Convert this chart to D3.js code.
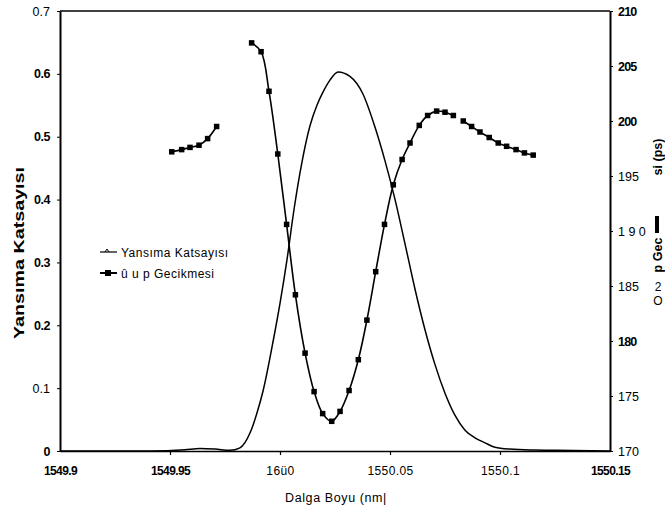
<!DOCTYPE html>
<html>
<head>
<meta charset="utf-8">
<script src="https://cdn.jsdelivr.net/npm/d3@7/dist/d3.min.js"></script>
<style>
  body { margin: 0; background: #fff; }
  text { font-family: "Liberation Sans", Arial, sans-serif; fill: #000; }
</style>
</head>
<body>
<div id="chart"></div>
<script>
// Yansima katsayisi (reflection) curve
var reflWl = [1549.9, 1549.9409, 1549.9568, 1549.9636, 1549.9705, 1549.9773, 1549.9818, 1549.9864,
    1549.9895, 1549.9924, 1549.997, 1550.0, 1550.0032, 1550.0064, 1550.0099, 1550.0136, 1550.0168,
    1550.0197, 1550.0227, 1550.0264, 1550.0318, 1550.0377, 1550.0432, 1550.0477, 1550.0523,
    1550.0568, 1550.0614, 1550.0659, 1550.0705, 1550.075, 1550.0795, 1550.0841, 1550.0886,
    1550.0932, 1550.0977, 1550.1045, 1550.1159, 1550.125, 1550.15];
var reflVal = [0, 0, 0.002, 0.004, 0.003, 0.001, 0.005, 0.029,
    0.06, 0.097, 0.177, 0.235, 0.305, 0.385, 0.458, 0.517, 0.55,
    0.572, 0.59, 0.603, 0.596, 0.568, 0.515, 0.462, 0.40,
    0.33, 0.257, 0.193, 0.137, 0.092, 0.057, 0.033, 0.021,
    0.013, 0.006, 0.003, 0.0015, 0.001, 0];

// Grup gecikmesi (group delay), three drawn pieces
var delayWlA = [1549.9508, 1549.9553, 1549.9591, 1549.9632, 1549.9671, 1549.9712];
var delayPsA = [197.2, 197.4, 197.6, 197.8, 198.4, 199.5];

var delayWlB = [1549.9871, 1549.9914, 1549.995, 1549.999, 1550.003, 1550.007, 1550.0114,
    1550.0155, 1550.0194, 1550.0235, 1550.0273, 1550.0314, 1550.0356, 1550.0395, 1550.0435,
    1550.0475, 1550.0515, 1550.0555, 1550.0591, 1550.0633, 1550.0671, 1550.0712, 1550.075,
    1550.0788];
var delayPsB = [207.1, 206.3, 202.7, 197.0, 190.6, 184.2, 178.9,
    175.4, 173.4, 172.7, 173.6, 175.5, 178.3, 181.9, 186.3,
    190.6, 194.2, 196.5, 198.0, 199.6, 200.5, 200.9, 200.8,
    200.5];

var delayWlC = [1550.0833, 1550.0871, 1550.0909, 1550.0951, 1550.0992, 1550.103, 1550.1073,
    1550.1111, 1550.1151];
var delayPsC = [200.0, 199.5, 199.0, 198.5, 198.0, 197.7, 197.4, 197.1, 196.9];

var xTicks = [1549.9, 1549.95, 1550, 1550.05, 1550.1, 1550.15];
var xTickLabels = ["1549.9", "1549.95", "16ü0", "1550.05", "1550.1", "1550.15"];
var leftTicks = [0, 0.1, 0.2, 0.3, 0.4, 0.5, 0.6, 0.7];
var leftTickLabels = ["0", "0.1", "0.2", "0.3", "0.4", "0.5", "0.6", "0.7"];
var rightTicks = [170, 175, 180, 185, 190, 195, 200, 205, 210];
var rightTickLabels = ["170", "175", "180", "185", "1 9 0", "195", "200", "205", "210"];

var legendLabels = ["Yansıma  Katsayısı", "û u p  Gecikmesi"];

draw();

function draw() {
    var W = 665, H = 510;
    var svg = d3.select("#chart").append("svg")
        .attr("width", W)
        .attr("height", H);
    svg.append("rect").attr("width", W).attr("height", H).attr("fill", "#fff");

    var x = d3.scaleLinear().domain([1549.9, 1550.15]).range([60, 610]);
    var yL = d3.scaleLinear().domain([0, 0.7]).range([451, 11]);
    var yR = d3.scaleLinear().domain([170, 210]).range([451, 11]);

    // bottom axis
    var gx = svg.append("g").attr("transform", "translate(0,451)")
        .call(d3.axisBottom(x).tickValues(xTicks)
            .tickFormat(function (d, i) { return xTickLabels[i]; })
            .tickSize(4).tickSizeOuter(0).tickPadding(11));
    gx.select(".domain").attr("stroke-width", 1.6);
    gx.selectAll(".tick line").attr("stroke-width", 1.2)
        .attr("opacity", function (d, i) { return (i === 0 || i === 5) ? 0 : 1; });
    gx.selectAll(".tick text").attr("font-size", 12)
        .attr("font-weight", function (d, i) { return [0, 1, 5].indexOf(i) >= 0 ? "bold" : "normal"; })
        .attr("letter-spacing", function (d, i) { return [0, 1, 5].indexOf(i) >= 0 ? "-0.6" : "0.4"; });

    // left axis
    var gl = svg.append("g").attr("transform", "translate(60,0)")
        .call(d3.axisLeft(yL).tickValues(leftTicks)
            .tickFormat(function (d, i) { return leftTickLabels[i]; })
            .tickSize(3).tickSizeOuter(0).tickPadding(7));
    gl.select(".domain").attr("stroke-width", 2);
    gl.selectAll(".tick text").attr("font-size", 12.5)
        .attr("font-weight", function (d, i) { return (i === 1 || i === 7) ? "normal" : "bold"; })
        .attr("letter-spacing", function (d, i) { return (i === 1 || i === 7) ? "0" : "-0.5"; });

    // right axis
    var gr = svg.append("g").attr("transform", "translate(610,0)")
        .call(d3.axisRight(yR).tickValues(rightTicks)
            .tickFormat(function (d, i) { return rightTickLabels[i]; })
            .tickSize(3).tickSizeOuter(0).tickPadding(5));
    gr.select(".domain").attr("stroke-width", 2);
    gr.selectAll(".tick text").attr("font-size", 12.5)
        .attr("font-weight", function (d, i) { return [2, 6, 7, 8].indexOf(i) >= 0 ? "bold" : "normal"; })
        .attr("letter-spacing", function (d, i) { return [2, 6, 7, 8].indexOf(i) >= 0 ? "-0.8" : "0"; });

    // top frame line
    svg.append("line").attr("x1", 60).attr("x2", 610).attr("y1", 11).attr("y2", 11)
        .attr("stroke", "#000").attr("stroke-width", 1.3);

    // reflection curve
    var refl = reflWl.map(function (w, i) { return [w, reflVal[i]]; });
    svg.append("path").datum(refl)
        .attr("fill", "none").attr("stroke", "#000").attr("stroke-width", 1.5)
        .attr("d", d3.line().curve(d3.curveMonotoneX)
            .x(function (d) { return x(d[0]); })
            .y(function (d) { return yL(d[1]); }));

    // group delay pieces
    var pieces = [[delayWlA, delayPsA], [delayWlB, delayPsB], [delayWlC, delayPsC]];
    pieces.forEach(function (p) {
        var pts = p[0].map(function (w, i) { return [w, p[1][i]]; });
        svg.append("path").datum(pts)
            .attr("fill", "none").attr("stroke", "#000").attr("stroke-width", 1.6)
            .attr("d", d3.line().curve(d3.curveCatmullRom)
                .x(function (d) { return x(d[0]); })
                .y(function (d) { return yR(d[1]); }));
        svg.selectAll(null).data(pts).enter().append("rect")
            .attr("x", function (d) { return x(d[0]) - 2.75; })
            .attr("y", function (d) { return yR(d[1]) - 2.75; })
            .attr("width", 5.5).attr("height", 5.5).attr("fill", "#000");
    });

    // legend
    var lg = svg.append("g");
    lg.append("line").attr("x1", 100).attr("x2", 117).attr("y1", 252).attr("y2", 252)
        .attr("stroke", "#000").attr("stroke-width", 1.2);
    lg.append("path").attr("d", "M105,252 L107,249 L109,252").attr("fill", "none")
        .attr("stroke", "#000").attr("stroke-width", 1);
    lg.append("line").attr("x1", 100).attr("x2", 117).attr("y1", 273).attr("y2", 273)
        .attr("stroke", "#000").attr("stroke-width", 2);
    lg.append("rect").attr("x", 105).attr("y", 270).attr("width", 6).attr("height", 6).attr("fill", "#000");
    lg.selectAll("text").data(legendLabels).enter().append("text")
        .attr("x", 121).attr("y", function (d, i) { return 257 + i * 21; })
        .attr("font-size", 12).attr("letter-spacing", 0.5)
        .text(function (d) { return d; });

    // axis titles
    svg.append("text").attr("x", 336).attr("y", 502).attr("text-anchor", "middle")
        .attr("font-size", 12.5).attr("letter-spacing", 0.6).text("Dalga Boyu (nm|");

    svg.append("text").attr("transform", "translate(24,253) rotate(-90)")
        .attr("text-anchor", "middle").attr("font-size", 14).attr("font-weight", "bold")
        .attr("textLength", 172).attr("lengthAdjust", "spacingAndGlyphs")
        .text("Yansıma Katsayısı");

    // right title, broken in pieces as in the scan
    svg.append("text").attr("transform", "translate(662,157) rotate(-90)")
        .attr("text-anchor", "middle").attr("font-size", 12.5).attr("font-weight", "bold")
        .text("si (ps)");
    svg.append("rect").attr("x", 655).attr("y", 216).attr("width", 4).attr("height", 17).attr("fill", "#000");
    svg.append("text").attr("transform", "translate(662,255) rotate(-90)")
        .attr("text-anchor", "middle").attr("font-size", 12.5).attr("font-weight", "bold")
        .text("p Gec");
    svg.append("text").attr("x", 658).attr("y", 291).attr("text-anchor", "middle")
        .attr("font-size", 12).text("2");
    svg.append("text").attr("x", 658).attr("y", 305).attr("text-anchor", "middle")
        .attr("font-size", 12).text("O");
}
</script>
</body>
</html>
